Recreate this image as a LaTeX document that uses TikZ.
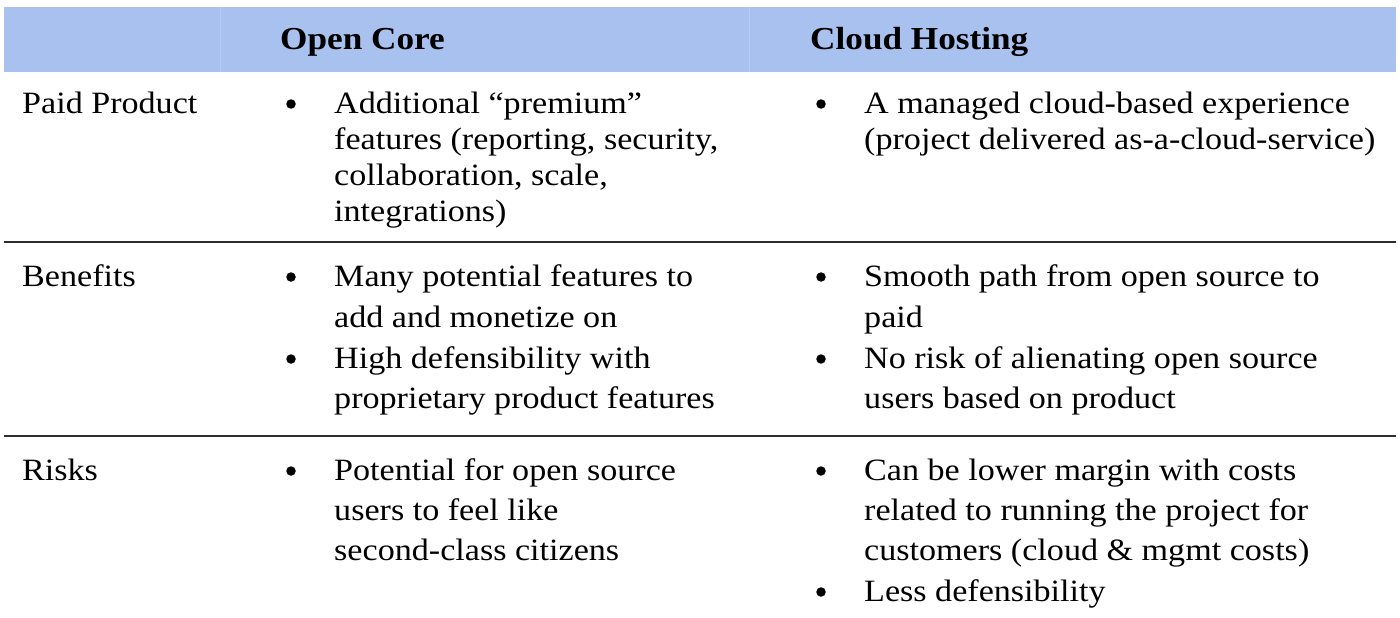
\documentclass[tikz,border=0pt]{standalone}
\usepackage{fontspec}
\setmainfont[FakeStretch=1.10]{Liberation Serif}
\definecolor{band}{HTML}{A9C1EE}
\definecolor{bandsep}{HTML}{B6CAF1}
\definecolor{rule}{HTML}{2E2E2E}
\begin{document}
\begin{tikzpicture}[x=1pt,y=-1pt,
  txt/.style={anchor=base west,inner sep=0pt,font=\fontsize{31}{36}\selectfont,text=black},
  hdr/.style={txt,font=\fontsize{32}{36}\selectfont\bfseries},
  bul/.style={circle,fill=black,inner sep=0pt,minimum size=9.5pt,yshift=9pt},
  rowrule/.style={draw=rule,line width=2.4pt}]
\useasboundingbox (0,0) rectangle (1400,618);
% header band
\fill[band] (4,7) rectangle (1396,72);
\draw[bandsep,line width=1pt] (220,7) -- (220,72);
\draw[bandsep,line width=1pt] (749,7) -- (749,72);
\node[hdr] (h1) at (280,50) {Open Core};
\node[hdr] (h2) at (810,50) {Cloud Hosting};
% rules
\coordinate (r1a) at (4,242); \coordinate (r1b) at (1396,242);
\coordinate (r2a) at (4,436); \coordinate (r2b) at (1396,436);
\draw[rowrule] (r1a) -- (r1b);
\draw[rowrule] (r2a) -- (r2b);
% row 1
\node[txt] (l1) at (22,113) {Paid Product};
\node[bul] (b11) at (291,113) {};
\node[txt] (t11a) at (334,113) {Additional “premium”};
\node[txt] (t11b) at (334,149) {features (reporting, security,};
\node[txt] (t11c) at (334,185) {collaboration, scale,};
\node[txt] (t11d) at (334,221) {integrations)};
\node[bul] (b12) at (821,113) {};
\node[txt] (t12a) at (864,113) {A managed cloud-based experience};
\node[txt] (t12b) at (864,149) {(project delivered as-a-cloud-service)};
% row 2
\node[txt] (l2) at (22,286) {Benefits};
\node[bul] (b21) at (291,286) {};
\node[txt] (t21a) at (334,286) {Many potential features to};
\node[txt] (t21b) at (334,327) {add and monetize on};
\node[bul] (b22) at (291,368) {};
\node[txt] (t22a) at (334,368) {High defensibility with};
\node[txt] (t22b) at (334,408) {proprietary product features};
\node[bul] (b23) at (821,286) {};
\node[txt] (t23a) at (864,286) {Smooth path from open source to};
\node[txt] (t23b) at (864,327) {paid};
\node[bul] (b24) at (821,368) {};
\node[txt] (t24a) at (864,368) {No risk of alienating open source};
\node[txt] (t24b) at (864,408) {users based on product};
% row 3
\node[txt] (l3) at (22,480) {Risks};
\node[bul] (b31) at (291,480) {};
\node[txt] (t31a) at (334,480) {Potential for open source};
\node[txt] (t31b) at (334,520) {users to feel like};
\node[txt] (t31c) at (334,560) {second-class citizens};
\node[bul] (b32) at (821,480) {};
\node[txt] (t32a) at (864,480) {Can be lower margin with costs};
\node[txt] (t32b) at (864,520) {related to running the project for};
\node[txt] (t32c) at (864,560) {customers (cloud \& mgmt costs)};
\node[bul] (b33) at (821,601) {};
\node[txt] (t33a) at (864,601) {Less defensibility};
\end{tikzpicture}
\end{document}
